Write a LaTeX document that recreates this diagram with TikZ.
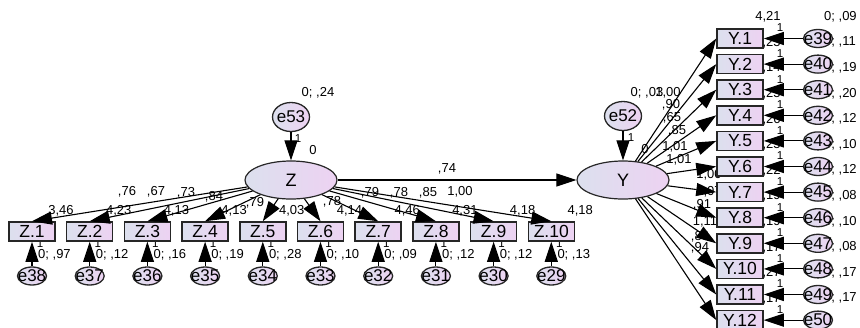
\documentclass[tikz,border=0pt]{standalone}
\usepackage{fontspec}
\setmainfont{Liberation Sans}
\usetikzlibrary{arrows.meta,shapes.geometric,calc}
\definecolor{fillL}{HTML}{DCE0EE}
\definecolor{fillR}{HTML}{EDD2F2}
\pgfdeclarelayer{labels}
\pgfsetlayers{labels,main}
\begin{document}
\begin{tikzpicture}[x=1pt,y=-1pt,
  obs/.style={draw=black!85,line width=1.5pt,left color=fillL,right color=fillR,minimum width=46pt,minimum height=19pt,inner sep=0pt,font=\fontsize{17.5}{17.5}\selectfont},
  lat/.style={ellipse,draw=black!85,line width=1.2pt,left color=fillL,right color=fillR,minimum width=92pt,minimum height=38pt,inner sep=0pt,font=\fontsize{18}{18}\selectfont},
  err/.style={ellipse,draw=black!85,line width=1.3pt,left color=fillL,right color=fillR,minimum width=29pt,minimum height=18pt,inner sep=0pt},
  bigerr/.style={err,minimum width=37pt,minimum height=29pt},
  errtext/.style={inner sep=0pt,font=\fontsize{17}{17}\selectfont},
  lbl/.style={inner sep=0pt,font=\fontsize{13}{13}\selectfont},
  one/.style={inner sep=0pt,font=\fontsize{11.5}{11.5}\selectfont},
  conn/.style={line width=1.1pt,-{Triangle[length=20pt,width=13pt]}},
]
\useasboundingbox (0,0) rectangle (860,327);
\clip (0,0) rectangle (860,327);

% latent variables
\node[lat] (Z) at (291,180) {Z};
\node[lat] (Y) at (623,180) {Y};
\node[bigerr,label={[errtext]center:e53}] (e53) at (291,117) {};
\node[bigerr,label={[errtext]center:e52}] (e52) at (623,116) {};

% Z indicators
\foreach \i/\en in {1/38,2/37,3/36,4/35,5/34,6/33,7/32,8/31,9/30,10/29}{
  \node[obs] (Z\i) at ({32+(\i-1)*57.7},231.5) {Z.\i};
  \node[err,label={[errtext]center:e\en}] (e\en) at ({32+(\i-1)*57.7},276) {};
}
% Y indicators
\foreach \i/\en in {1/39,2/40,3/41,4/42,5/43,6/44,7/45,8/46,9/47,10/48,11/49,12/50}{
  \node[obs] (Y\i) at (740,{38.5+(\i-1)*25.6}) {Y.\i};
  \node[err,label={[errtext]center:e\en}] (e\en) at (818,{38.5+(\i-1)*25.6}) {};
}

% connectors
\draw[conn] (e53) -- (Z);
\draw[conn] (e52) -- (Y);
\draw[conn] (Z) -- (Y);
\foreach \i/\en in {1/38,2/37,3/36,4/35,5/34,6/33,7/32,8/31,9/30,10/29}{
  \draw[conn] (Z) -- (Z\i.north);
  \draw[conn] (e\en) -- (Z\i);
}
\foreach \i/\en in {1/39,2/40,3/41,4/42,5/43,6/44,7/45,8/46,9/47,10/48,11/49,12/50}{
  \draw[conn] (Y) -- (Y\i.west);
  \draw[conn] (e\en) -- (Y\i);
}

% labels (behind shapes)
\begin{pgfonlayer}{labels}
\node[lbl] (v53) at (318,93) {0; ,24};
\node[one] (o53) at (298,139) {1};
\node[lbl] (m53) at (313,150) {0};
\node[lbl] (v52) at (647,93) {0; ,03};
\node[one] (o52) at (631,138) {1};
\node[lbl] (m52) at (645,149) {0};
\node[lbl] (lzy) at (447,169) {,74};
\foreach \i/\ld/\lx/\ly/\ic/\ev in {1/{,76}/127/192/{3,46}/{,97},2/{,67}/156/192/{4,23}/{,12},3/{,73}/186/193/{4,13}/{,16},4/{,84}/214/197/{4,13}/{,19},5/{,79}/255/203/{4,03}/{,28},6/{,78}/332/202/{4,14}/{,10},7/{,79}/370/193/{4,46}/{,09},8/{,78}/399/193/{4,31}/{,12},9/{,85}/428/193/{4,18}/{,12},10/{1,00}/460/192/{4,18}/{,13}}{
  \node[lbl] (lz\i) at (\lx,\ly) {\ld};
  \node[lbl] (iz\i) at ($(Z\i.center)+(29,-20.5)$) {\ic};
  \node[lbl,anchor=west] (vz\i) at ($(Z\i.center)+(6,23.5)$) {0; \ev};
  \node[one] (oz\i) at ($(Z\i.center)+(8,12.5)$) {1};
}
\foreach \i/\ld/\lx/\ly/\ic/\ev/\en in {1/{1,00}/668/93/{4,21}/{,09}/39,2/{,90}/671/105/{4,25}/{,11}/40,3/{,65}/672/118/{4,14}/{,19}/41,4/{,85}/677/131/{4,25}/{,20}/42,5/{1,01}/675/147/{4,26}/{,12}/43,6/{1,01}/679/160/{4,25}/{,10}/44,7/{1,00}/709/175/{4,22}/{,12}/45,8/{1,07}/709/192/{4,19}/{,08}/46,9/{,91}/702/205/{4,19}/{,10}/47,10/{1,11}/705/222/{4,17}/{,08}/48,11/{,86}/700/237/{4,27}/{,17}/49,12/{,94}/700/248/{4,17}/{,17}/50}{
  \node[lbl] (ly\i) at (\lx,\ly) {\ld};
  \node[lbl] (iy\i) at ($(Y\i.center)+(28,-21.5)$) {\ic};
  \node[lbl,anchor=west] (vy\i) at ($(e\en.center)+(6,-22)$) {0; \ev};
  \node[one] (oy\i) at ($(Y\i.center)+(40,-10.5)$) {1};
}
\end{pgfonlayer}
\end{tikzpicture}
\end{document}
